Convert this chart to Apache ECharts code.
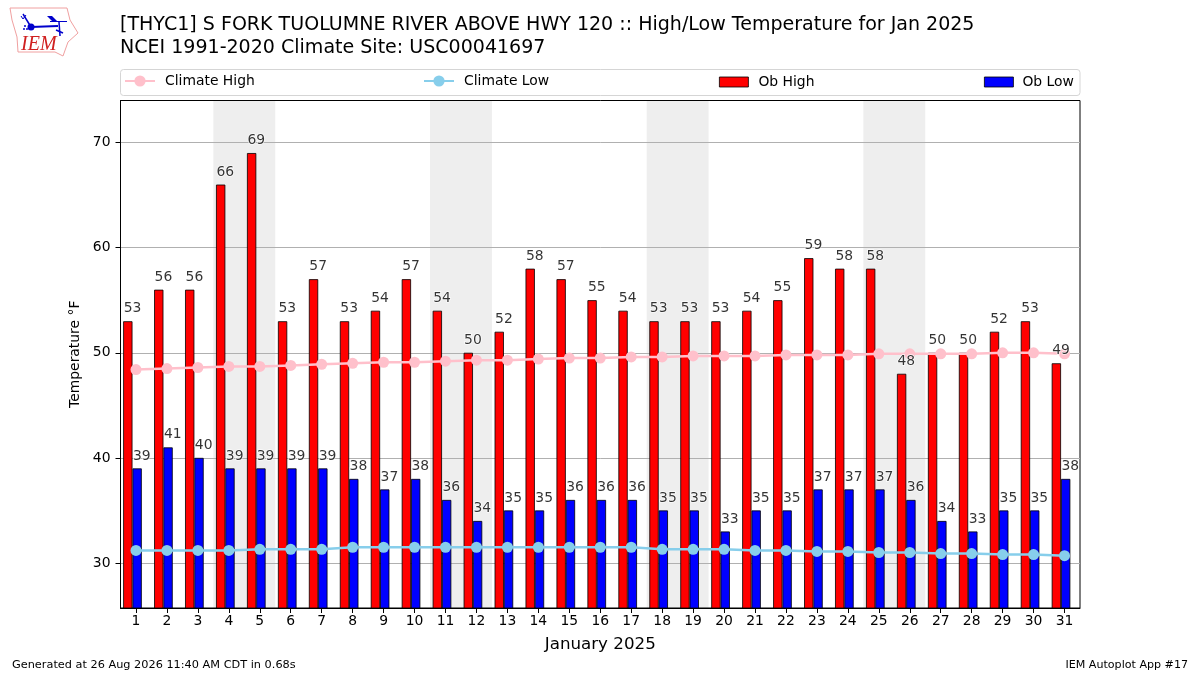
<!DOCTYPE html>
<html><head><meta charset="utf-8">
<style>html,body{margin:0;padding:0;background:#fff}#c{width:1200px;height:675px}</style>
<script src="https://cdn.jsdelivr.net/npm/echarts@6/dist/echarts.min.js"></script>
</head><body><div id="c"></div>
<script>
var days = ['1','2','3','4','5','6','7','8','9','10','11','12','13','14','15','16','17','18','19','20','21','22','23','24','25','26','27','28','29','30','31'];
var obHigh = [53,56,56,66,69,53,57,53,54,57,54,50,52,58,57,55,54,53,53,53,54,55,59,58,58,48,50,50,52,53,49];
var obLow = [39,41,40,39,39,39,39,38,37,38,36,34,35,35,36,36,36,35,35,33,35,35,37,37,37,36,34,33,35,35,38];
var climateHigh = [48.4,48.5,48.6,48.7,48.7,48.8,48.9,49.0,49.1,49.1,49.2,49.3,49.3,49.4,49.5,49.5,49.6,49.6,49.7,49.7,49.7,49.8,49.8,49.8,49.9,49.9,49.9,49.9,50.0,50.0,49.9];
var climateLow = [31.2,31.2,31.2,31.2,31.3,31.3,31.3,31.5,31.5,31.5,31.5,31.5,31.5,31.5,31.5,31.5,31.5,31.3,31.3,31.3,31.2,31.2,31.1,31.1,31.0,31.0,30.9,30.9,30.8,30.8,30.7];
var weekends = [[3.5,5.5],[10.5,12.5],[17.5,19.5],[24.5,26.5]];
var yTicks = [30,40,50,60,70];
var FONT = '"DejaVu Sans"';

function labelSeries(name,values,dx){
  return {name:name,type:'scatter',data:values,symbolSize:0,z:10,silent:true,
    label:{show:true,position:'top',distance:5.5,offset:[dx,0],fontFamily:FONT,fontSize:13.9,color:'#000',
           textBorderColor:'#fff',textBorderWidth:1.5}};
}
function legendAt(name,left,isBar,gap){
  var l={show:true,left:left,top:isBar?75:74,itemWidth:isBar?29:30,itemHeight:isBar?10:14,itemGap:0,padding:0,data:[name],
    textStyle:{fontFamily:FONT,fontSize:13.9,color:'#000',padding:[0,0,0,gap]}};
  if(isBar){l.icon='rect';l.itemStyle={borderWidth:0.8,borderColor:'#000'};}
  return l;
}
var chart = echarts.init(document.getElementById('c'),null,{renderer:'canvas'});
chart.setOption({
  animation:false,
  backgroundColor:'#fff',
  textStyle:{fontFamily:FONT},
  title:[
    {text:'[THYC1] S FORK TUOLUMNE RIVER ABOVE HWY 120 :: High/Low Temperature for Jan 2025',left:120,top:16,padding:0,
      textStyle:{fontFamily:FONT,fontSize:19.05,fontWeight:'normal',color:'#000'}},
    {text:'NCEI 1991-2020 Climate Site: USC00041697',left:120,top:39,padding:0,
      textStyle:{fontFamily:FONT,fontSize:19.05,fontWeight:'normal',color:'#000'}},
    {text:'Generated at 26 Aug 2026 11:40 AM CDT in 0.68s',left:12,top:660,padding:0,
      textStyle:{fontFamily:FONT,fontSize:11.3,fontWeight:'normal',color:'#000'}},
    {text:'IEM Autoplot App #17',right:12,top:660,padding:0,
      textStyle:{fontFamily:FONT,fontSize:11.1,fontWeight:'normal',color:'#000'}}
  ],
  legend:[
    legendAt('Climate High',124,false,5),
    legendAt('Climate Low',423,false,5),
    legendAt('Ob High',719,true,5),
    legendAt('Ob Low',984,true,4)
  ],
  grid:{left:120.5,top:100.5,width:959.5,height:507.5,show:true,borderColor:'#000',borderWidth:1,backgroundColor:'transparent',containLabel:false},
  xAxis:[
    {type:'category',data:days,name:'January 2025',nameLocation:'middle',nameGap:28,
     nameTextStyle:{fontFamily:FONT,fontSize:16.7,color:'#000'},
     axisLine:{show:true,lineStyle:{color:'#000',width:1}},
     axisTick:{show:true,alignWithLabel:true,length:5,lineStyle:{color:'#000',width:1}},
     axisLabel:{interval:0,fontFamily:FONT,fontSize:13.9,color:'#000',margin:6},
     splitLine:{show:false}},
    {type:'value',min:0.5,max:31.5,show:false,position:'top'}
  ],
  yAxis:{type:'value',min:25.72,max:74,name:'Temperature °F',nameLocation:'middle',nameGap:34,nameRotate:90,
     nameTextStyle:{fontFamily:FONT,fontSize:13.9,color:'#000'},
     axisLine:{show:true,onZero:false,lineStyle:{color:'#000',width:1}},
     axisTick:{show:true,length:5,customValues:yTicks,lineStyle:{color:'#000',width:1}},
     axisLabel:{fontFamily:FONT,fontSize:13.9,color:'#000',margin:10,padding:[2,0,0,0],customValues:yTicks,showMinLabel:true,showMaxLabel:true},
     splitLine:{show:true,lineStyle:{color:'#b0b0b0',width:1}}
  },
  series:[
    {name:'weekend',type:'line',xAxisIndex:1,data:[],z:-1,silent:true,legendHoverLink:false,
     markArea:{silent:true,z:-1,itemStyle:{color:'#eeeeee'},data:weekends.map(function(w){return [{xAxis:w[0]},{xAxis:w[1]}];})}},
    {name:'Ob High',type:'bar',data:obHigh,barWidth:9.3,barGap:'0%',z:3,
     itemStyle:{color:'#ff0000',borderColor:'#000',borderWidth:0.8}},
    {name:'Ob Low',type:'bar',data:obLow,barWidth:9.3,barGap:'0%',z:3,
     itemStyle:{color:'#0000ff',borderColor:'#000',borderWidth:0.8}},
    {name:'spacer',type:'bar',data:[],barWidth:7,barGap:'0%',z:3,silent:true},
    {name:'Climate High',type:'line',data:climateHigh,z:5,symbol:'circle',symbolSize:11,showSymbol:true,
     lineStyle:{color:'#ffc0cb',width:2.5},itemStyle:{color:'#ffc0cb'}},
    {name:'Climate Low',type:'line',data:climateLow,z:5,symbol:'circle',symbolSize:11,showSymbol:true,
     lineStyle:{color:'#87ceeb',width:2.5},itemStyle:{color:'#87ceeb'}},
    labelSeries('high labels',obHigh,-3.5),
    labelSeries('low labels',obLow,5.8)
  ],
  graphic:[
    {type:'rect',z:-5,shape:{x:120.5,y:69.5,width:959.5,height:26,r:3},style:{fill:'#fff',stroke:'#d5d5d5',lineWidth:1}},
    {type:'polygon',z:1,shape:{points:[[10,8],[67,8],[70,20],[78,33],[68,42],[63,56],[55,52],[18,52],[17,37],[12,20]]},style:{fill:'#fff',stroke:'#f0a0a0',lineWidth:1}},
    {type:'text',z:2,style:{x:21,y:35,text:'IEM',font:'italic 20px "Liberation Serif"',fill:'#d02020'}},
    {type:'polyline',z:2,shape:{points:[[31,27],[58,26]]},style:{stroke:'#0000cc',lineWidth:2,fill:null}},
    {type:'circle',z:2,shape:{cx:31,cy:27,r:3.5},style:{fill:'#0000cc'}},
    {type:'polyline',z:2,shape:{points:[[31,27],[23,14]]},style:{stroke:'#0000cc',lineWidth:1.5,fill:null}},
    {type:'polyline',z:2,shape:{points:[[21,16],[23,19],[26,15]]},style:{stroke:'#0000cc',lineWidth:1,fill:null}},
    {type:'polygon',z:2,shape:{points:[[47,16],[52,16],[58,22],[53,22]]},style:{fill:'#0000cc'}},
    {type:'polyline',z:2,shape:{points:[[50,21.5],[67,21.5]]},style:{stroke:'#0000cc',lineWidth:1,fill:null}},
    {type:'polyline',z:2,shape:{points:[[59,22],[60,36]]},style:{stroke:'#0000cc',lineWidth:1.5,fill:null}},
    {type:'polyline',z:2,shape:{points:[[56,30],[63,33]]},style:{stroke:'#0000cc',lineWidth:1.5,fill:null}},
    {type:'circle',z:2,shape:{cx:24,cy:29,r:1},style:{fill:'#0000cc'}},
    {type:'circle',z:2,shape:{cx:27,cy:29,r:1},style:{fill:'#0000cc'}},
    {type:'circle',z:2,shape:{cx:25,cy:26,r:1},style:{fill:'#0000cc'}}
  ]
});
</script></body></html>
